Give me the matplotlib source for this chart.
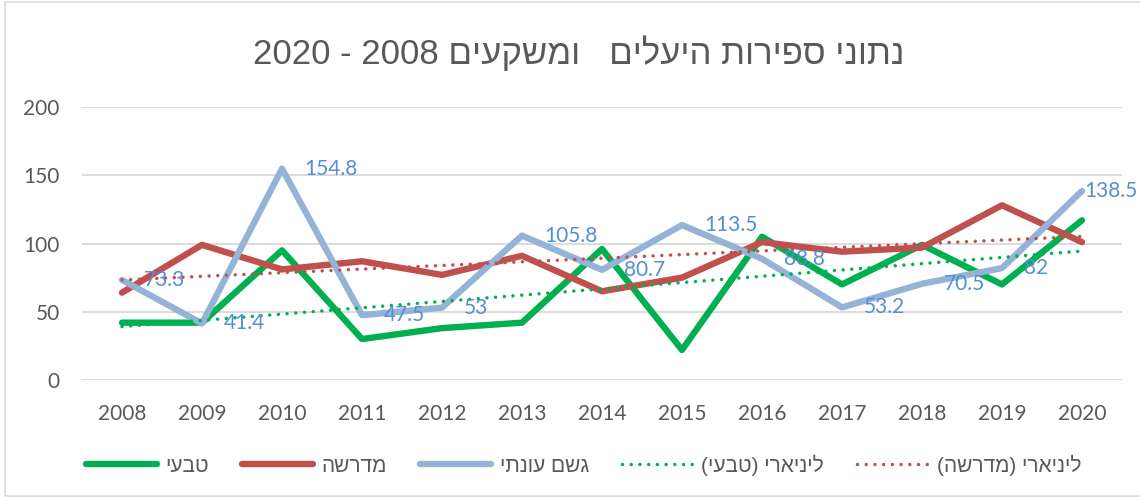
import numpy as np
import matplotlib
matplotlib.use("Agg")
import matplotlib.pyplot as plt
from matplotlib.patches import Rectangle

plt.rcParams['font.family'] = ['Liberation Sans', 'DejaVu Sans']

# ---- data ----
years = ["2008", "2009", "2010", "2011", "2012", "2013", "2014",
         "2015", "2016", "2017", "2018", "2019", "2020"]
tivi = [42, 42, 95, 30, 38, 42, 96, 22, 105, 70, 99, 70, 117]          # טבעי
midrasha = [64, 99, 81, 87, 77, 91, 65, 75, 101, 94, 97, 128, 101]      # מדרשה
geshem = [73.3, 41.4, 154.8, 47.5, 53, 105.8, 80.7, 113.5, 88.8, 53.2, 70.5, 82, 138.5]  # גשם עונתי
geshem_labels = ["73.3", "41.4", "154.8", "47.5", "53", "105.8", "80.7",
                 "113.5", "88.8", "53.2", "70.5", "82", "138.5"]
y_ticks = [0, 50, 100, 150, 200]

# Hebrew strings in visual (left-to-right display) order
def vis(s):
    return s[::-1]

title_text = "2020 - 2008 " + vis("נתוני ספירות היעלים   ומשקעים")
name_tivi = vis("טבעי")
name_midrasha = vis("מדרשה")
name_geshem = vis("גשם עונתי")
name_lin_tivi = "(" + vis("טבעי") + ") " + vis("ליניארי")
name_lin_midrasha = "(" + vis("מדרשה") + ") " + vis("ליניארי")

GREEN = "#00B050"
RED = "#C0504D"
BLUE = "#95B3D7"
LABEL_BLUE = "#558ED5"
TEXT = "#595959"
GRID = "#D9D9D9"
NUMFONT = ['Lato', 'DejaVu Sans']

W, H = 1140, 497
fig = plt.figure(figsize=(W / 100, H / 100), dpi=100)
fig.patch.set_facecolor("white")

ax = fig.add_axes([82 / W, 1 - 380 / H, (1122 - 82) / W, (380 - 107) / H])
x = np.arange(len(years))

ax.set_xlim(-0.5, len(years) - 0.5)
ax.set_ylim(0, 200)
ax.set_yticks(y_ticks)
ax.set_xticks(x)
ax.set_xticklabels(years)
ax.yaxis.grid(True, color=GRID, linewidth=1.3)
ax.set_axisbelow(True)
for sp in ax.spines.values():
    sp.set_visible(False)
ax.tick_params(axis='both', length=0, labelsize=15, colors=TEXT)
ax.tick_params(axis='y', pad=16)
ax.tick_params(axis='x', pad=17)
for lab in ax.get_xticklabels() + ax.get_yticklabels():
    lab.set_family(NUMFONT)

lw = 4.6
l1, = ax.plot(x, tivi, color=GREEN, lw=lw, solid_joinstyle='round', solid_capstyle='round', zorder=3)
l2, = ax.plot(x, midrasha, color=RED, lw=lw, solid_joinstyle='round', solid_capstyle='round', zorder=3)
l3, = ax.plot(x, geshem, color=BLUE, lw=lw, solid_joinstyle='round', solid_capstyle='round', zorder=3)

# linear trendlines (least squares, as Excel)
c1 = np.polyfit(x, tivi, 1)
c2 = np.polyfit(x, midrasha, 1)
dot = (0, (0.01, 2.5))
t1, = ax.plot(x, np.polyval(c1, x), color=GREEN, lw=2.5, linestyle=dot,
              dash_capstyle='round', zorder=4)
t2, = ax.plot(x, np.polyval(c2, x), color=RED, lw=2.5, linestyle=dot,
              dash_capstyle='round', zorder=4)

anns = []
for xi, v, lab in zip(x, geshem, geshem_labels):
    a = ax.annotate(lab, (xi, v), xytext=(16, 0), textcoords='offset points',
                    ha='left', va='center', fontsize=15, color=LABEL_BLUE, zorder=5,
                    family=NUMFONT, annotation_clip=False)
    anns.append(a)

fig.text(0.508, 1 - 53 / H, title_text, ha='center', va='center', fontsize=25, color=TEXT)

leg = fig.legend([l1, l2, l3, t1, t2],
                 [name_tivi, name_midrasha, name_geshem, name_lin_tivi, name_lin_midrasha],
                 loc='center', bbox_to_anchor=(0.512, 1 - 465 / H), ncol=5, frameon=False,
                 fontsize=15, handlelength=3.4, columnspacing=1.6, handletextpad=0.4)
for t in leg.get_texts():
    t.set_color(TEXT)

fig.patches.append(Rectangle((5 / W, 1 / H), 1.2, 1 - 3 / H, transform=fig.transFigure,
                             fill=False, edgecolor="#D9D9D9", linewidth=1.2))

# keep data labels inside the chart area (as Excel does)
fig.canvas.draw()
renderer = fig.canvas.get_renderer()
for a in anns:
    bb = a.get_window_extent(renderer)
    over = bb.x1 - (W - 2)
    if over > 0:
        ox, oy = a.xyann
        a.xyann = (ox - over * 72 / fig.dpi, oy)

fig.savefig("out.png", dpi=100)
